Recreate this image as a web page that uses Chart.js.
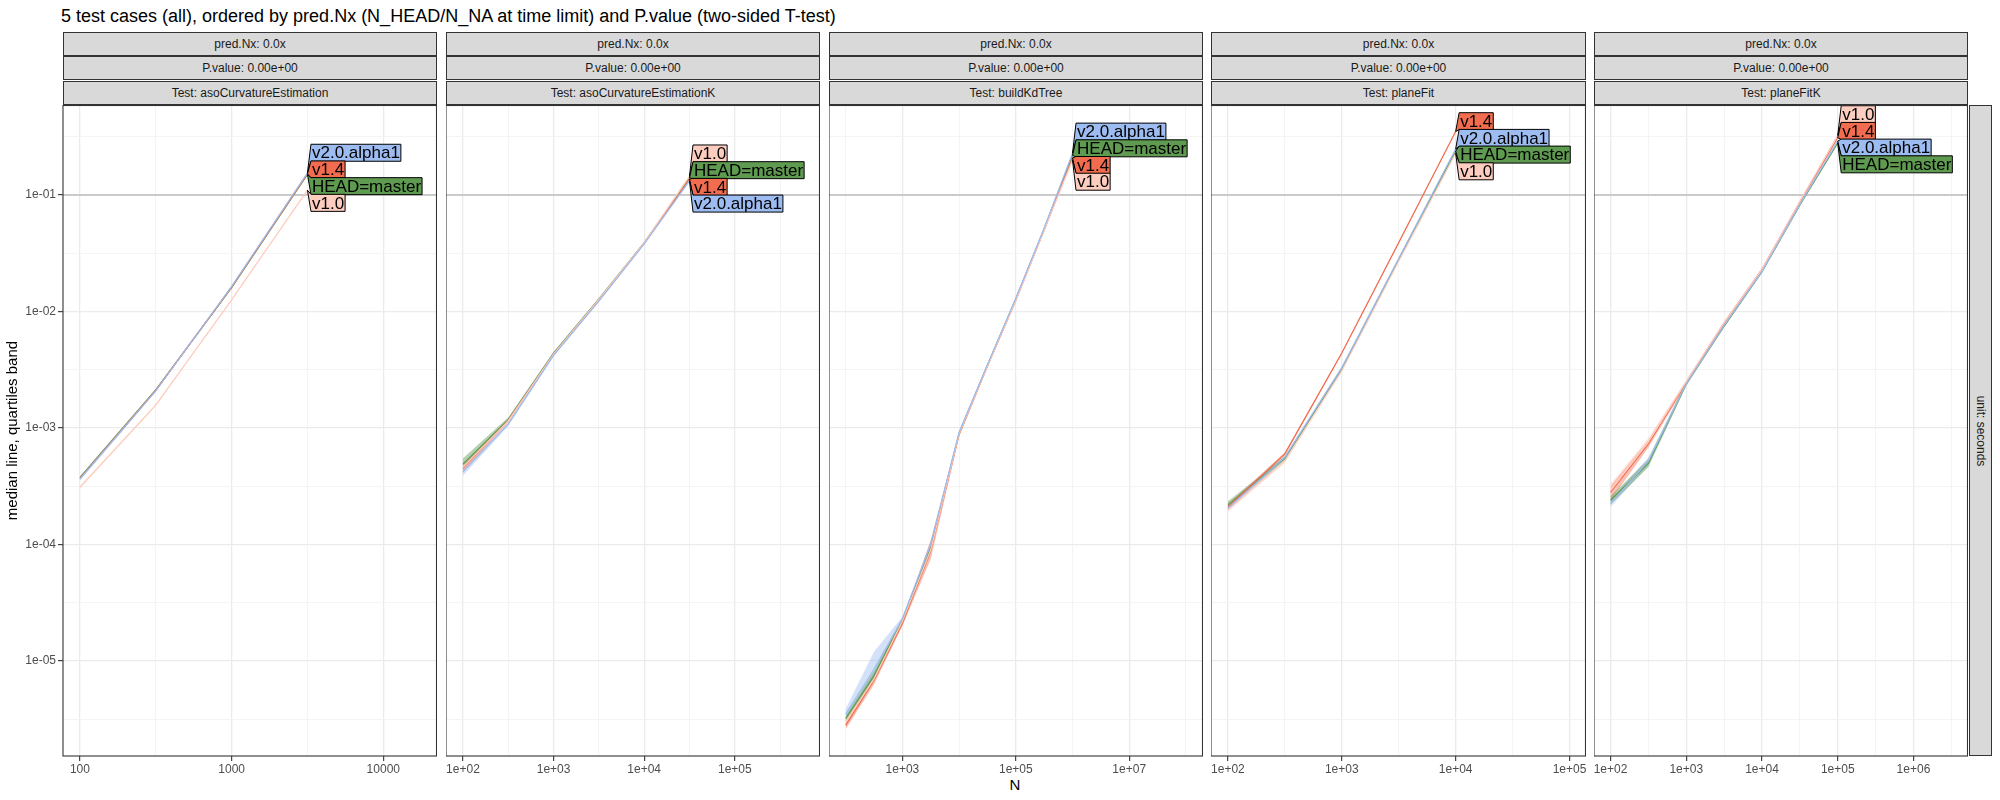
<!DOCTYPE html>
<html>
<head>
<meta charset="utf-8">
<script src="https://cdn.jsdelivr.net/npm/chart.js@4.4.1/dist/chart.umd.min.js"></script>
<style>
  body { margin: 0; background: #fff; font-family: "Liberation Sans", Arial, sans-serif; }
  #page { position: relative; width: 2000px; height: 800px; overflow: hidden; background: #fff; }
  .box { position: absolute; }
  .strip { position: absolute; box-sizing: border-box; height: 24px; background: #d9d9d9; border: 1px solid #333;
           color: #1a1a1a; font-size: 12px; line-height: 22px; text-align: center; white-space: nowrap; overflow: hidden; }
  #title { position: absolute; left: 61px; top: 6px; font-size: 18px; color: #000; white-space: nowrap; }
  #xtitle { position: absolute; left: 0; width: 2030px; top: 776px; font-size: 15px; text-align: center; color: #000; }
  #rstrip { position: absolute; left: 1969px; top: 105px; width: 23px; height: 651px; box-sizing: border-box;
            background: #d9d9d9; border: 1px solid #333; }
  #rstrip span { position: absolute; left: 50%; top: 50%; transform: translate(-50%, -50%) rotate(90deg);
                 font-size: 12px; color: #1a1a1a; white-space: nowrap; }
</style>
</head>
<body>
<div id="page">
  <div id="title">5 test cases (all), ordered by pred.Nx (N_HEAD/N_NA at time limit) and P.value (two-sided T-test)</div>
  <div id="xtitle">N</div>
  <div id="rstrip"><span>unit: seconds</span></div>
</div>
<script>
// series, drawing order as in the original (alphabetical groups)
const SERIES = ['HEAD=master', 'v1.0', 'v1.4', 'v2.0.alpha1'];
const SERIES_COLORS = ['#5e9a4f', '#fdcdbf', '#f26d4f', '#9dbcf2'];

const TESTS = ['asoCurvatureEstimation', 'asoCurvatureEstimationK', 'buildKdTree', 'planeFit', 'planeFitK'];
const PRED_NX = ['0.0x', '0.0x', '0.0x', '0.0x', '0.0x'];
const P_VALUES = ['0.00e+00', '0.00e+00', '0.00e+00', '0.00e+00', '0.00e+00'];

// N values per test
const nAso = [100, 316, 1000, 3162];
const nAsoK = [100, 316, 1000, 3162, 10000, 31623];
const nKd = [100, 316, 1000, 3162, 10000, 31623, 100000, 316228, 1000000];
const nPlane = [100, 316, 1000, 3162, 10000];
const nPlaneK = [100, 316, 1000, 3162, 10000, 31623, 100000];

// median / first quartile / third quartile, one row per SERIES entry
const medAso = [
  [3.75e-4, 2.12e-3, 1.60e-2, 0.150],
  [3.10e-4, 1.57e-3, 1.26e-2, 0.110],
  [3.70e-4, 2.10e-3, 1.62e-2, 0.152],
  [3.65e-4, 2.08e-3, 1.64e-2, 0.155]
];
const loAso = [
  [3.65e-4, 2.08e-3, 1.58e-2, 0.148],
  [3.02e-4, 1.54e-3, 1.24e-2, 0.108],
  [3.60e-4, 2.06e-3, 1.60e-2, 0.150],
  [3.55e-4, 2.04e-3, 1.62e-2, 0.153]
];
const hiAso = [
  [3.85e-4, 2.16e-3, 1.62e-2, 0.152],
  [3.18e-4, 1.60e-3, 1.28e-2, 0.112],
  [3.80e-4, 2.14e-3, 1.64e-2, 0.154],
  [3.75e-4, 2.12e-3, 1.66e-2, 0.157]
];

const medAsoK = [
  [4.9e-4, 1.18e-3, 4.4e-3, 1.28e-2, 3.9e-2, 0.140],
  [4.6e-4, 1.15e-3, 4.3e-3, 1.27e-2, 3.9e-2, 0.145],
  [4.5e-4, 1.16e-3, 4.3e-3, 1.25e-2, 3.85e-2, 0.137],
  [4.2e-4, 1.08e-3, 4.2e-3, 1.23e-2, 3.8e-2, 0.132]
];
const loAsoK = [
  [4.5e-4, 1.14e-3, 4.3e-3, 1.26e-2, 3.85e-2, 0.138],
  [4.3e-4, 1.11e-3, 4.2e-3, 1.25e-2, 3.85e-2, 0.143],
  [4.2e-4, 1.12e-3, 4.2e-3, 1.23e-2, 3.8e-2, 0.135],
  [3.9e-4, 1.04e-3, 4.1e-3, 1.21e-2, 3.75e-2, 0.130]
];
const hiAsoK = [
  [5.5e-4, 1.23e-3, 4.5e-3, 1.30e-2, 3.95e-2, 0.142],
  [5.0e-4, 1.19e-3, 4.4e-3, 1.29e-2, 3.95e-2, 0.147],
  [4.9e-4, 1.20e-3, 4.4e-3, 1.27e-2, 3.9e-2, 0.139],
  [4.6e-4, 1.12e-3, 4.3e-3, 1.25e-2, 3.85e-2, 0.134]
];

const medKd = [
  [3.2e-6, 7.5e-6, 2.25e-5, 9.5e-5, 9.0e-4, 3.45e-3, 1.28e-2, 5.1e-2, 0.218],
  [3.0e-6, 7.0e-6, 2.2e-5, 9.0e-5, 8.9e-4, 3.4e-3, 1.25e-2, 5.0e-2, 0.200],
  [2.8e-6, 6.8e-6, 2.1e-5, 8.8e-5, 8.8e-4, 3.4e-3, 1.25e-2, 5.0e-2, 0.208],
  [3.5e-6, 8.5e-6, 2.3e-5, 1.0e-4, 9.2e-4, 3.5e-3, 1.3e-2, 5.2e-2, 0.228]
];
const loKd = [
  [3.0e-6, 7.0e-6, 2.15e-5, 9.0e-5, 8.7e-4, 3.35e-3, 1.25e-2, 5.0e-2, 0.214],
  [2.8e-6, 6.5e-6, 2.1e-5, 8.3e-5, 8.6e-4, 3.3e-3, 1.22e-2, 4.9e-2, 0.196],
  [2.6e-6, 6.3e-6, 2.0e-5, 7.5e-5, 8.4e-4, 3.3e-3, 1.22e-2, 4.9e-2, 0.204],
  [3.2e-6, 7.2e-6, 2.2e-5, 9.4e-5, 8.9e-4, 3.4e-3, 1.27e-2, 5.1e-2, 0.224]
];
const hiKd = [
  [3.4e-6, 8.2e-6, 2.35e-5, 1.0e-4, 9.3e-4, 3.55e-3, 1.31e-2, 5.2e-2, 0.222],
  [3.2e-6, 7.6e-6, 2.3e-5, 9.8e-5, 9.2e-4, 3.5e-3, 1.28e-2, 5.1e-2, 0.204],
  [3.0e-6, 7.4e-6, 2.2e-5, 1.1e-4, 9.2e-4, 3.5e-3, 1.28e-2, 5.1e-2, 0.212],
  [3.9e-6, 1.2e-5, 2.4e-5, 1.06e-4, 9.5e-4, 3.6e-3, 1.33e-2, 5.3e-2, 0.232]
];

const medPlane = [
  [2.2e-4, 5.5e-4, 3.2e-3, 2.8e-2, 0.238],
  [2.0e-4, 5.2e-4, 3.1e-3, 2.7e-2, 0.228],
  [2.1e-4, 6.0e-4, 4.4e-3, 3.9e-2, 0.350],
  [2.05e-4, 5.6e-4, 3.3e-3, 2.85e-2, 0.248]
];
const loPlane = [
  [2.05e-4, 5.3e-4, 3.15e-3, 2.75e-2, 0.234],
  [1.9e-4, 5.0e-4, 3.05e-3, 2.65e-2, 0.224],
  [1.98e-4, 5.8e-4, 4.3e-3, 3.85e-2, 0.345],
  [1.95e-4, 5.4e-4, 3.25e-3, 2.8e-2, 0.244]
];
const hiPlane = [
  [2.35e-4, 5.7e-4, 3.25e-3, 2.85e-2, 0.242],
  [2.1e-4, 5.4e-4, 3.15e-3, 2.75e-2, 0.232],
  [2.2e-4, 6.2e-4, 4.5e-3, 3.95e-2, 0.355],
  [2.15e-4, 5.8e-4, 3.35e-3, 2.9e-2, 0.252]
];

const medPlaneK = [
  [2.4e-4, 5.0e-4, 2.4e-3, 7.5e-3, 2.2e-2, 8.2e-2, 0.280],
  [2.9e-4, 7.6e-4, 2.5e-3, 8.0e-3, 2.3e-2, 8.8e-2, 0.325],
  [2.8e-4, 7.3e-4, 2.45e-3, 7.9e-3, 2.3e-2, 8.7e-2, 0.310],
  [2.25e-4, 5.2e-4, 2.4e-3, 7.6e-3, 2.2e-2, 8.3e-2, 0.290]
];
const loPlaneK = [
  [2.2e-4, 4.6e-4, 2.3e-3, 7.3e-3, 2.15e-2, 8.0e-2, 0.275],
  [2.6e-4, 7.0e-4, 2.4e-3, 7.7e-3, 2.25e-2, 8.6e-2, 0.318],
  [2.4e-4, 6.8e-4, 2.35e-3, 7.6e-3, 2.25e-2, 8.5e-2, 0.304],
  [2.1e-4, 4.8e-4, 2.3e-3, 7.4e-3, 2.15e-2, 8.1e-2, 0.285]
];
const hiPlaneK = [
  [2.6e-4, 5.4e-4, 2.5e-3, 7.7e-3, 2.25e-2, 8.4e-2, 0.285],
  [3.3e-4, 8.2e-4, 2.6e-3, 8.3e-3, 2.35e-2, 9.0e-2, 0.332],
  [3.2e-4, 7.9e-4, 2.55e-3, 8.2e-3, 2.35e-2, 8.9e-2, 0.316],
  [2.4e-4, 5.6e-4, 2.5e-3, 7.8e-3, 2.25e-2, 8.5e-2, 0.295]
];

// axes
const Y_TICKS = [1e-1, 1e-2, 1e-3, 1e-4, 1e-5];
const Y_LABELS = ['1e-01', '1e-02', '1e-03', '1e-04', '1e-05'];
const Y_RANGE = [1.53e-6, 0.592];
const Y_TITLE = 'median line, quartiles band';
const REF_LINE = 0.1;

const xTicksAso = [100, 1000, 10000];
const xLabelsAso = ['100', '1000', '10000'];
const xTicksAsoK = [1e2, 1e3, 1e4, 1e5];
const xLabelsAsoK = ['1e+02', '1e+03', '1e+04', '1e+05'];
const xTicksKd = [1e3, 1e5, 1e7];
const xLabelsKd = ['1e+03', '1e+05', '1e+07'];
const xTicksPlane = [1e2, 1e3, 1e4, 1e5];
const xLabelsPlane = ['1e+02', '1e+03', '1e+04', '1e+05'];
const xTicksPlaneK = [1e2, 1e3, 1e4, 1e5, 1e6];
const xLabelsPlaneK = ['1e+02', '1e+03', '1e+04', '1e+05', '1e+06'];
const xRangeAso = [77.3, 22600];
const xRangeAsoK = [65, 871000];
const xRangeKd = [50.8, 2.0e8];
const xRangePlane = [71, 139600];
const xRangePlaneK = [60.5, 5.25e6];

const panels = [
  { n: nAso, med: medAso, lo: loAso, hi: hiAso, ticks: xTicksAso, labels: xLabelsAso, range: xRangeAso },
  { n: nAsoK, med: medAsoK, lo: loAsoK, hi: hiAsoK, ticks: xTicksAsoK, labels: xLabelsAsoK, range: xRangeAsoK },
  { n: nKd, med: medKd, lo: loKd, hi: hiKd, ticks: xTicksKd, labels: xLabelsKd, range: xRangeKd },
  { n: nPlane, med: medPlane, lo: loPlane, hi: hiPlane, ticks: xTicksPlane, labels: xLabelsPlane, range: xRangePlane },
  { n: nPlaneK, med: medPlaneK, lo: loPlaneK, hi: hiPlaneK, ticks: xTicksPlaneK, labels: xLabelsPlaneK, range: xRangePlaneK }
];

// page layout
const PANEL_LEFT = [63, 446, 829, 1211, 1594];
const PANEL_RIGHT = [437, 820, 1203, 1586, 1968];
const PLOT_TOP = 105;
const CANVAS_H = 695;
const X_AXIS_H = 44;
const Y_AXIS_W = 63;
const LABEL_STEP = 16.7;
const LABEL_H = 17;

const GRID_MAJOR = '#ebebeb';
const GRID_MINOR = '#f3f3f3';

Chart.defaults.font.family = '"Liberation Sans", Arial, sans-serif';

const rgba = (hex, a) => {
  const v = parseInt(hex.slice(1), 16);
  return `rgba(${(v >> 16) & 255},${(v >> 8) & 255},${v & 255},${a})`;
};

// majors plus half-way minors in log space
const buildTicks = (majors, labels, lo, hi) => {
  const step = majors.length > 1 ? Math.log10(majors[1]) - Math.log10(majors[0]) : 1;
  const out = majors.map((v, i) => ({ value: v, lbl: labels[i], minor: false }));
  majors.forEach((v) => {
    [-0.5, 0.5].forEach((d) => {
      const m = Math.pow(10, Math.log10(v) + d * step);
      if (m > lo && m < hi && !out.some((t) => Math.abs(Math.log10(t.value) - Math.log10(m)) < 1e-6)) {
        out.push({ value: m, lbl: '', minor: true });
      }
    });
  });
  return out.sort((a, b) => a.value - b.value);
};

const gridColor = (c) => (c.tick && c.tick.minor ? GRID_MINOR : GRID_MAJOR);
const gridWidth = (c) => (c.tick && c.tick.minor ? 0.9 : 1.3);
const tickColor = (c) => (c.tick && c.tick.minor ? 'rgba(0,0,0,0)' : '#333333');

const refLine = {
  id: 'refLine',
  beforeDatasetsDraw(chart) {
    const { ctx, chartArea } = chart;
    const y = chart.scales.y.getPixelForValue(REF_LINE);
    ctx.save();
    ctx.strokeStyle = '#bebebe';
    ctx.lineWidth = 1.6;
    ctx.beginPath();
    ctx.moveTo(chartArea.left, y);
    ctx.lineTo(chartArea.right, y);
    ctx.stroke();
    ctx.restore();
  }
};

// boxed labels at the line ends, stacked with least squares shift
const directLabels = {
  id: 'directLabels',
  afterDatasetsDraw(chart) {
    const ctx = chart.ctx;
    const items = [];
    chart.data.datasets.forEach((ds, i) => {
      if (!ds.seriesName) return;
      const meta = chart.getDatasetMeta(i);
      const pt = meta.data[meta.data.length - 1];
      items.push({ text: ds.seriesName, fill: ds.labelFill, x: pt.x, t: pt.y });
    });
    items.sort((a, b) => a.t - b.t);
    const blocks = [];
    items.forEach((it, i) => {
      blocks.push({ sum: it.t - i * LABEL_STEP, n: 1 });
      while (blocks.length > 1) {
        const b = blocks[blocks.length - 1];
        const a = blocks[blocks.length - 2];
        if (a.sum / a.n <= b.sum / b.n) break;
        a.sum += b.sum;
        a.n += b.n;
        blocks.pop();
      }
    });
    let k = 0;
    blocks.forEach((b) => {
      for (let j = 0; j < b.n; j++) {
        items[k].p = b.sum / b.n + k * LABEL_STEP;
        k++;
      }
    });
    ctx.save();
    ctx.font = '17px "Liberation Sans", Arial, sans-serif';
    ctx.textBaseline = 'middle';
    items.forEach((it) => {
      const w = ctx.measureText(it.text).width + 2;
      const x1 = it.x + 3.5;
      const top = it.p - LABEL_H / 2;
      const bot = it.p + LABEL_H / 2;
      ctx.beginPath();
      ctx.moveTo(it.x, it.t);
      ctx.lineTo(x1, top);
      ctx.lineTo(x1 + w, top);
      ctx.lineTo(x1 + w, bot);
      ctx.lineTo(x1, bot);
      ctx.closePath();
      ctx.fillStyle = it.fill;
      ctx.fill();
      ctx.strokeStyle = '#000';
      ctx.lineWidth = 1;
      ctx.stroke();
      ctx.fillStyle = '#000';
      ctx.fillText(it.text, x1 + 1, it.p + 1);
    });
    ctx.restore();
  }
};

const panelBorder = {
  id: 'panelBorder',
  afterDraw(chart) {
    const { ctx, chartArea } = chart;
    ctx.save();
    ctx.strokeStyle = '#333333';
    ctx.lineWidth = 1.1;
    ctx.strokeRect(chartArea.left, chartArea.top + 0.5, chartArea.right - chartArea.left - 0.5, chartArea.bottom - chartArea.top - 0.5);
    ctx.restore();
  }
};

const page = document.getElementById('page');

const makeStrips = (i) => {
  const texts = ['pred.Nx: ' + PRED_NX[i], 'P.value: ' + P_VALUES[i], 'Test: ' + TESTS[i]];
  texts.forEach((t, r) => {
    const d = document.createElement('div');
    d.className = 'strip';
    d.style.left = PANEL_LEFT[i] + 'px';
    d.style.width = (PANEL_RIGHT[i] - PANEL_LEFT[i]) + 'px';
    d.style.top = (32 + r * 24.3) + 'px';
    d.textContent = t;
    page.appendChild(d);
  });
};

const makePanel = (i) => {
  const p = panels[i];
  const first = i === 0;
  const left = first ? PANEL_LEFT[i] - Y_AXIS_W : PANEL_LEFT[i];
  const box = document.createElement('div');
  box.className = 'box';
  box.style.left = left + 'px';
  box.style.top = PLOT_TOP + 'px';
  box.style.width = (PANEL_RIGHT[i] - left) + 'px';
  box.style.height = CANVAS_H + 'px';
  const canvas = document.createElement('canvas');
  box.appendChild(canvas);
  page.appendChild(box);

  const datasets = [];
  const lineOrder = [3, 1, 2, 0];
  SERIES.forEach((name, s) => {
    datasets.push({
      seriesName: name,
      labelFill: SERIES_COLORS[s],
      data: p.n.map((n, j) => ({ x: n, y: p.med[s][j] })),
      borderColor: SERIES_COLORS[s],
      borderWidth: 1.2,
      pointRadius: 0,
      fill: false,
      order: lineOrder[s]
    });
  });
  SERIES.forEach((name, s) => {
    datasets.push({
      data: p.n.map((n, j) => ({ x: n, y: p.hi[s][j] })),
      borderWidth: 0,
      pointRadius: 0,
      backgroundColor: rgba(SERIES_COLORS[s], 0.45),
      fill: '+1',
      order: 10 + s
    });
    datasets.push({
      data: p.n.map((n, j) => ({ x: n, y: p.lo[s][j] })),
      borderWidth: 0,
      pointRadius: 0,
      fill: false,
      order: 10 + s
    });
  });

  new Chart(canvas, {
    type: 'line',
    data: { datasets },
    options: {
      responsive: true,
      maintainAspectRatio: false,
      animation: false,
      layout: { padding: 0 },
      plugins: { legend: { display: false }, tooltip: { enabled: false }, title: { display: false } },
      scales: {
        x: {
          type: 'logarithmic',
          bounds: 'data',
          min: p.range[0],
          max: p.range[1],
          afterBuildTicks: (sc) => { sc.ticks = buildTicks(p.ticks, p.labels, p.range[0], p.range[1]); },
          afterFit: (sc) => { sc.height = X_AXIS_H; sc.paddingLeft = 0; sc.paddingRight = 0; },
          ticks: {
            autoSkip: false, maxRotation: 0, minRotation: 0, padding: 1,
            color: '#4d4d4d', font: { size: 12 },
            callback: (v, idx, ticks) => ticks[idx].lbl
          },
          grid: { color: gridColor, lineWidth: gridWidth, tickColor: tickColor, tickLength: 5, tickWidth: 1.1 },
          border: { display: false }
        },
        y: {
          type: 'logarithmic',
          bounds: 'data',
          min: Y_RANGE[0],
          max: Y_RANGE[1],
          afterBuildTicks: (sc) => { sc.ticks = buildTicks(Y_TICKS, Y_LABELS, Y_RANGE[0], Y_RANGE[1]); },
          afterFit: (sc) => { sc.width = first ? Y_AXIS_W : 0; sc.paddingTop = 0; sc.paddingBottom = 0; },
          ticks: {
            display: first, autoSkip: false, padding: 2, color: '#4d4d4d', font: { size: 12 },
            callback: (v, idx, ticks) => ticks[idx].lbl
          },
          grid: { color: gridColor, lineWidth: gridWidth, tickColor: tickColor, tickLength: 5, tickWidth: 1.1, drawTicks: first },
          border: { display: false },
          title: { display: first, text: Y_TITLE, color: '#000', font: { size: 15 }, padding: { top: 4, bottom: 0 } }
        }
      }
    },
    plugins: [refLine, directLabels, panelBorder]
  });
};

for (let i = 0; i < panels.length; i++) {
  makeStrips(i);
  makePanel(i);
}
</script>
</body>
</html>
